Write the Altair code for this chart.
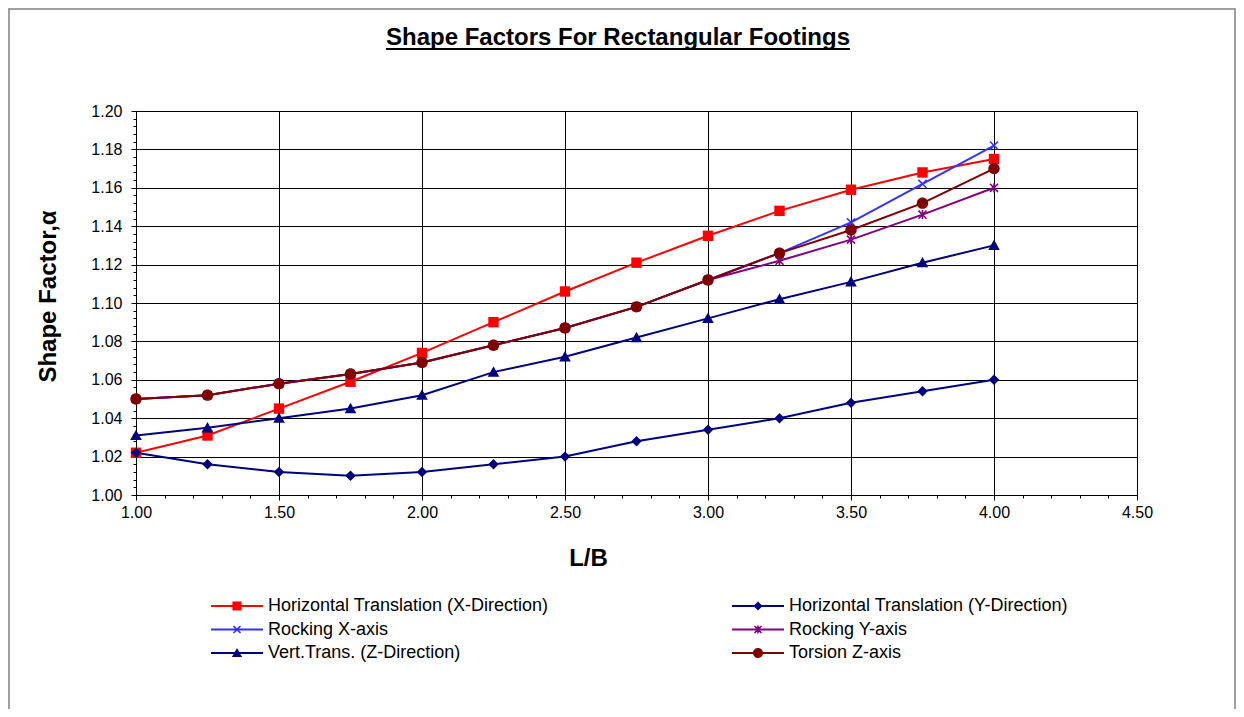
import math
import altair as alt
import pandas as pd
import numpy as np

# ---------------- data ----------------
lb = [1.00, 1.25, 1.50, 1.75, 2.00, 2.25, 2.50, 2.75, 3.00, 3.25, 3.50, 3.75, 4.00]
horiz_x = [1.022, 1.031, 1.045, 1.059, 1.074, 1.090, 1.106, 1.121, 1.135, 1.148, 1.159, 1.168, 1.175]
horiz_y = [1.022, 1.016, 1.012, 1.010, 1.012, 1.016, 1.020, 1.028, 1.034, 1.040, 1.048, 1.054, 1.060]
rock_x = [1.050, 1.052, 1.058, 1.063, 1.069, 1.078, 1.087, 1.098, 1.112, 1.126, 1.142, 1.162, 1.182]
rock_y = [1.050, 1.052, 1.058, 1.063, 1.069, 1.078, 1.087, 1.098, 1.112, 1.122, 1.133, 1.146, 1.160]
vert_z = [1.031, 1.035, 1.040, 1.045, 1.052, 1.064, 1.072, 1.082, 1.092, 1.102, 1.111, 1.121, 1.130]
torsion = [1.050, 1.052, 1.058, 1.063, 1.069, 1.078, 1.087, 1.098, 1.112, 1.126, 1.138, 1.152, 1.170]

series_names = [
    "Horizontal Translation (X-Direction)",
    "Horizontal Translation (Y-Direction)",
    "Rocking X-axis",
    "Rocking Y-axis",
    "Vert.Trans. (Z-Direction)",
    "Torsion Z-axis",
]
series_values = [horiz_x, horiz_y, rock_x, rock_y, vert_z, torsion]
series_colors = ["#FF0000", "#000080", "#3333FF", "#800080", "#000080", "#800000"]

x_ticks = [1.00, 1.50, 2.00, 2.50, 3.00, 3.50, 4.00, 4.50]
y_ticks = [1.00, 1.02, 1.04, 1.06, 1.08, 1.10, 1.12, 1.14, 1.16, 1.18, 1.20]
x_minor = [round(v, 2) for v in np.arange(1.0, 4.5001, 0.1)]
y_minor = [round(v, 3) for v in np.arange(1.0, 1.2001, 0.004)]

chart_title = "Shape Factors For Rectangular Footings"
x_title = "L/B"
y_title = "Shape Factor,\u03b1"

rows = []
for name, vals in zip(series_names, series_values):
    for x, v in zip(lb, vals):
        rows.append({"lb": x, "val": v, "series": name})
df = pd.DataFrame(rows)
one = pd.DataFrame({"k": [0]})

# ---------------- marker paths ----------------
def poly(pts, s):
    return "M" + "L".join(f"{x / s:.4f},{y / s:.4f}" for x, y in pts) + "Z"

def sq(m):
    return [(-m, -m), (m, -m), (m, m), (-m, m)]

def dia(m):
    return [(0, -m), (m, 0), (0, m), (-m, 0)]

def tri(m):
    return [(0, -m), (m, 0.8 * m), (-m, 0.8 * m)]

def plus(L, a):
    return [(a, -L), (a, -a), (L, -a), (L, a), (a, a), (a, L), (-a, L), (-a, a),
            (-L, a), (-L, -a), (-a, -a), (-a, -L)]

def rot45(pts):
    c = math.sqrt(0.5)
    return [((x - y) * c, (x + y) * c) for x, y in pts]

def vbar(L, a):
    return [(-a, -L), (a, -L), (a, L), (-a, L)]

def circ(m, s):
    r = m / s
    return f"M{r:.4f},0A{r:.4f},{r:.4f},0,1,1,{-r:.4f},0A{r:.4f},{r:.4f},0,1,1,{r:.4f},0Z"

def marker_paths(s, k):
    a = 0.8
    xL = 4.6 * k / 0.7071 - a
    return [
        poly(sq(5.2 * k), s),
        poly(dia(5.2 * k), s),
        poly(rot45(plus(xL, a)), s),
        poly(rot45(plus(xL, a)), s) + poly(vbar(4.6 * k, a), s),
        poly(tri(5.8 * k), s),
        circ(5.7 * k, s),
    ]

PS = 7.0
plot_paths = marker_paths(PS, 1.0)
plot_size = (2 * PS) ** 2

# legend symbol: nominal radius 9px, drawn line reaches +-26px
LS = 9.0
LINE_HALF = 26.0
line_bar = poly([(-LINE_HALF, -1), (LINE_HALF, -1), (LINE_HALF, 1), (-LINE_HALF, 1)], LS)
legend_paths = [line_bar + p for p in marker_paths(LS, 0.88)]
legend_size = (2 * LS) ** 2

FONT = "Liberation Sans"

xscale = alt.Scale(domain=[1.0, 4.5], nice=False, zero=False)
yscale = alt.Scale(domain=[1.0, 1.2], nice=False, zero=False)
cscale = alt.Scale(domain=series_names, range=series_colors)

major_x = alt.Axis(values=x_ticks, format=".2f", title=x_title, orient="bottom",
                   labelFont=FONT, labelFontSize=16, labelColor="black", labelPadding=4,
                   labelFlush=False, labelOverlap=False,
                   tickSize=5, tickColor="black", domainColor="black",
                   grid=True, gridColor="black", gridWidth=1,
                   titleFont=FONT, titleFontSize=24, titleFontWeight="bold", titleColor="black",
                   titleX=452, titleY=70, titleBaseline="alphabetic", titleAlign="center")
major_y = alt.Axis(values=y_ticks, format=".2f", title=y_title, orient="left",
                   labelFont=FONT, labelFontSize=16, labelColor="black", labelPadding=9,
                   labelFlush=False, labelOverlap=False,
                   tickSize=5, tickColor="black", domainColor="black",
                   grid=True, gridColor="black", gridWidth=1,
                   titleFont=FONT, titleFontSize=24, titleFontWeight="bold", titleColor="black",
                   titleX=-81, titleY=185, titleAngle=-90, titleBaseline="alphabetic",
                   titleAlign="center")
minor_x = alt.Axis(values=x_minor, labels=False, grid=False, domain=False, title=None,
                   tickSize=3, tickColor="black", orient="bottom")
minor_y = alt.Axis(values=y_minor, labels=False, grid=False, domain=False, title=None,
                   tickSize=3, tickColor="black", orient="left")

legend = alt.Legend(title=None, orient="none", legendX=75, legendY=486, columns=2,
                    direction="horizontal",
                    columnPadding=182, rowPadding=5.5, padding=0,
                    labelFont=FONT, labelFontSize=18, labelColor="black",
                    symbolOffset=17, labelOffset=22,
                    labelLimit=500, symbolSize=legend_size, symbolOpacity=1,
                    symbolStrokeWidth=0)

base = alt.Chart(df)

legend_layer = base.mark_point(filled=True, opacity=0).encode(
    x=alt.X("lb:Q", scale=xscale, axis=None),
    y=alt.Y("val:Q", scale=yscale, axis=None),
    color=alt.Color("series:N", scale=cscale, legend=legend),
    shape=alt.Shape("series:N", scale=alt.Scale(domain=series_names, range=legend_paths),
                    legend=legend),
)

lines = base.mark_line(strokeWidth=2).encode(
    x=alt.X("lb:Q", scale=xscale, axis=major_x),
    y=alt.Y("val:Q", scale=yscale, axis=major_y),
    color=alt.Color("series:N", scale=cscale),
)

point_layers = []
for i, (name, path) in enumerate(zip(series_names, plot_paths)):
    ax_x = minor_x if i == 0 else None
    ax_y = minor_y if i == 0 else None
    pl = base.mark_point(shape=path, filled=True, size=plot_size, opacity=1, strokeWidth=0).encode(
        x=alt.X("lb:Q", scale=xscale, axis=ax_x),
        y=alt.Y("val:Q", scale=yscale, axis=ax_y),
        color=alt.Color("series:N", scale=cscale),
    ).transform_filter(alt.datum.series == name)
    point_layers.append(pl)

deco = alt.Chart(one)
title_text = deco.mark_text(font=FONT, fontSize=24, fontWeight="bold", align="center",
                            baseline="alphabetic", color="black").encode(
    x=alt.value(482), y=alt.value(-66), text=alt.value(chart_title))
underline = deco.mark_rule(strokeWidth=2, color="black").encode(
    x=alt.value(250), x2=alt.value(714), y=alt.value(-62))
border_left = deco.mark_rule(strokeWidth=1.5, color="#808080").encode(
    x=alt.value(-127), y=alt.value(-102.5), y2=alt.value(600))
border_top = deco.mark_rule(strokeWidth=1.5, color="#808080").encode(
    x=alt.value(-127.5), x2=alt.value(1099.5), y=alt.value(-102))
border_right = deco.mark_rule(strokeWidth=1.5, color="#808080").encode(
    x=alt.value(1099), y=alt.value(-102.5), y2=alt.value(600))

chart = alt.layer(
    legend_layer, lines, *point_layers,
    title_text, underline, border_left, border_top, border_right,
).resolve_axis(x="independent", y="independent").properties(
    width=1001, height=384,
    autosize=alt.AutoSizeParams(type="none"),
    padding={"left": 128, "top": 103, "right": 99, "bottom": 214},
).configure_view(stroke="#808080", strokeWidth=1).configure(background="white")

chart.save("out.html", embed_options={"renderer": "svg", "actions": False})
